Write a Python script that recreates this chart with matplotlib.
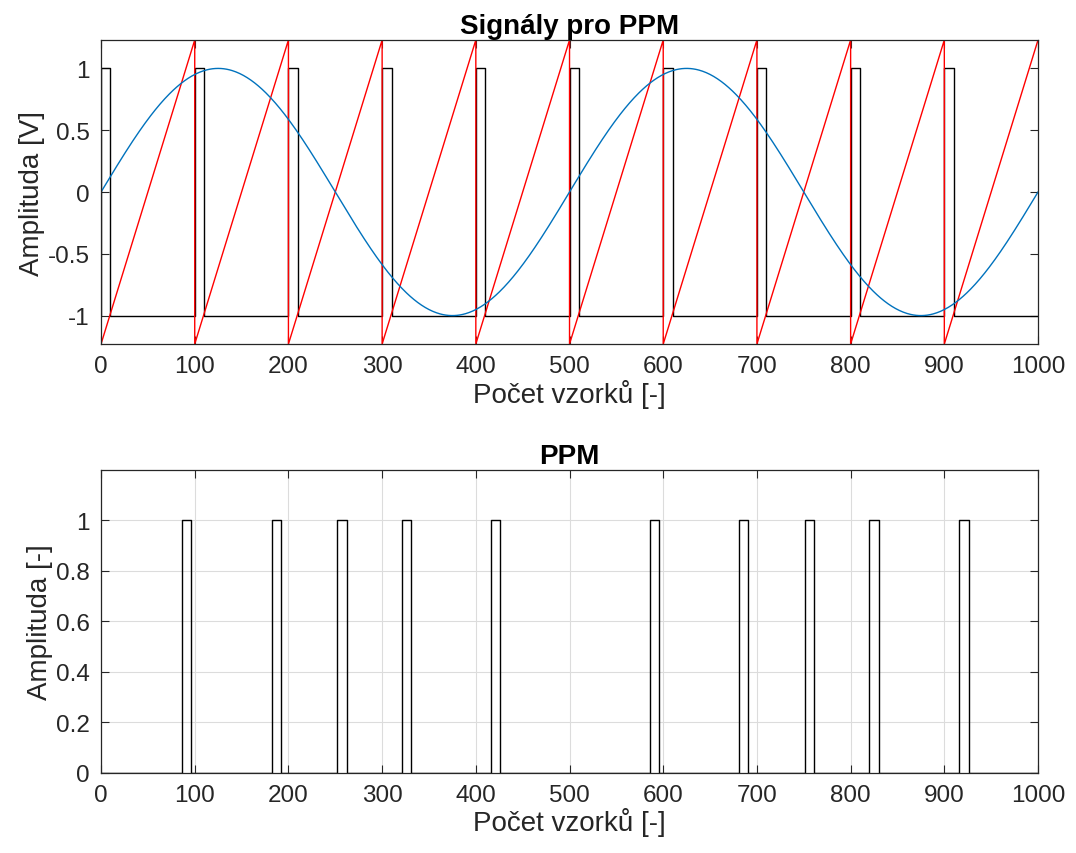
import numpy as np
import matplotlib
matplotlib.use('Agg')
import matplotlib.pyplot as plt

plt.rcParams['font.family'] = ['Liberation Sans', 'DejaVu Sans']

# signal parameters
n_samples = 1000
sine_amplitude = 1.0
sine_period = 500
saw_period = 100
saw_low, saw_high = -1.23, 1.23
clock_starts = [0, 100, 200, 300, 400, 500, 600, 700, 800, 900]
clock_width = 10
clock_low, clock_high = -1, 1
ppm_starts = [86, 182, 252, 321, 416, 586, 681, 751, 820, 916]
ppm_width = 10
ppm_low, ppm_high = 0, 1

top_yticks = [-1, -0.5, 0, 0.5, 1]
top_yticklabels = ['-1', '-0.5', '0', '0.5', '1']
bottom_yticks = [0, 0.2, 0.4, 0.6, 0.8, 1]
bottom_yticklabels = ['0', '0.2', '0.4', '0.6', '0.8', '1']
xticks = [0, 100, 200, 300, 400, 500, 600, 700, 800, 900, 1000]

TXT = '#262626'


def pulse_xy(starts, width, low, high, end):
    xs, ys = [0], [low]
    for s in starts:
        xs += [s, s, s + width, s + width]
        ys += [low, high, high, low]
    xs.append(end)
    ys.append(low)
    return xs, ys


def saw_xy(period, low, high, end):
    xs, ys = [], []
    for s in range(0, end, period):
        xs += [s, s + period]
        ys += [low, high]
    return xs, ys


def style(ax):
    ax.set_xlim(0, n_samples)
    ax.set_xticks(xticks)
    ax.tick_params(direction='in', length=6, width=0.8, colors=TXT,
                   labelsize=17.5, top=True, right=True, pad=8)
    for sp in ax.spines.values():
        sp.set_color(TXT)
        sp.set_linewidth(0.9)


fig = plt.figure(figsize=(10.76, 8.54), dpi=100)

# top axes: modulating sine, sawtooth, clock pulses
ax1 = fig.add_axes([0.0939, 0.596, 0.8708, 0.356])
x = np.arange(0, n_samples + 1)
sine = sine_amplitude * np.sin(2 * np.pi * x / sine_period)
sx, sy = saw_xy(saw_period, saw_low, saw_high, n_samples)
cx, cy = pulse_xy(clock_starts, clock_width, clock_low, clock_high, n_samples)
ax1.plot(cx, cy, color='black', lw=1.0)
ax1.plot(sx, sy, color='red', lw=1.0)
ax1.plot(x, sine, color='#0072BD', lw=1.0)
ax1.set_ylim(saw_low, saw_high)
ax1.set_yticks(top_yticks)
ax1.set_yticklabels(top_yticklabels)
style(ax1)
ax1.set_title('Signály pro PPM', fontsize=20, fontweight='bold', pad=5)
ax1.set_xlabel('Počet vzorků [-]', fontsize=20, color=TXT, labelpad=1)
ax1.set_ylabel('Amplituda [V]', fontsize=20, color=TXT, labelpad=2)

# bottom axes: PPM output
ax2 = fig.add_axes([0.0939, 0.0937, 0.8708, 0.3548])
px, py = pulse_xy(ppm_starts, ppm_width, ppm_low, ppm_high, n_samples)
ax2.plot(px, py, color='black', lw=1.0)
ax2.set_ylim(0, 1.2)
ax2.set_yticks(bottom_yticks)
ax2.set_yticklabels(bottom_yticklabels)
ax2.grid(True, color='#dcdcdc', lw=0.8)
ax2.set_axisbelow(True)
style(ax2)
ax2.set_title('PPM', fontsize=20, fontweight='bold', pad=5)
ax2.set_xlabel('Počet vzorků [-]', fontsize=20, color=TXT, labelpad=1)
ax2.set_ylabel('Amplituda [-]', fontsize=20, color=TXT, labelpad=2)

fig.savefig('out.png', dpi=100)
